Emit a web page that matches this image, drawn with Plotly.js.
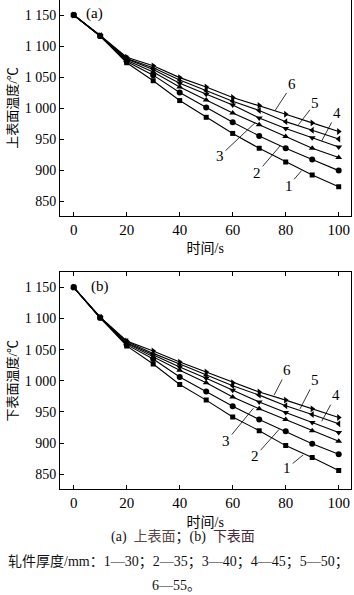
<!DOCTYPE html>
<html>
<head>
<meta charset="utf-8">
<script src="https://cdn.plot.ly/plotly-3.0.1.min.js"></script>
<style>
html,body{margin:0;padding:0;background:#fff;}
#chart{width:354px;height:595px;}
</style>
</head>
<body>
<div id="chart"></div>
<script>
// ---- data ----
const timeS = [0, 10, 20, 30, 40, 50, 60, 70, 80, 90, 100];
const seriesNames = ["1", "2", "3", "4", "5", "6"];
const thicknessMm = [30, 35, 40, 45, 50, 55];

// (a) upper surface temperature, °C
const upper1 = [1150, 1116, 1073, 1044, 1012, 985, 959, 935, 913, 892, 873];
const upper2 = [1150, 1116, 1075, 1053, 1025, 1001, 977, 955, 935, 917, 899];
const upper3 = [1150, 1116, 1077, 1058, 1034, 1013, 992, 973, 954, 935, 920];
const upper4 = [1150, 1116, 1079, 1062, 1040, 1022, 1005, 984, 967, 952, 937];
const upper5 = [1150, 1117, 1080, 1065, 1045, 1028, 1011, 996, 978, 964, 950];
const upper6 = [1150, 1117, 1082, 1068, 1049, 1034, 1017, 1004, 990, 976, 962];

// (b) lower surface temperature, °C
const lower1 = [1150, 1101, 1056, 1027, 994, 969, 942, 920, 896, 877, 856];
const lower2 = [1150, 1101, 1058, 1035, 1006, 983, 959, 938, 919, 899, 882];
const lower3 = [1150, 1101, 1060, 1038, 1017, 997, 974, 955, 938, 920, 903];
const lower4 = [1150, 1101, 1061, 1041, 1022, 1004, 985, 966, 949, 933, 917];
const lower5 = [1150, 1102, 1063, 1044, 1027, 1009, 992, 977, 960, 946, 931];
const lower6 = [1150, 1102, 1064, 1048, 1030, 1014, 997, 982, 969, 955, 941];

const yTickVals = [850, 900, 950, 1000, 1050, 1100, 1150];
const yTickText = ["850", "900", "950", "1 000", "1 050", "1 100", "1 150"];
const xTickVals = [0, 20, 40, 60, 80, 100];

// ---- style ----
const FONT = '"Liberation Serif", "Times New Roman", "Noto Sans CJK SC", serif';
const symbols = ["square", "circle", "triangle-up", "triangle-down", "triangle-left", "triangle-right"];
const sizes = [5, 6, 6, 6, 6, 6];

const upper = [upper1, upper2, upper3, upper4, upper5, upper6];
const lower = [lower1, lower2, lower3, lower4, lower5, lower6];

const traces = [];
function addSet(sets, xa, ya) {
  sets.forEach((vals, i) => {
    traces.push({
      x: timeS, y: vals, xaxis: xa, yaxis: ya,
      type: 'scatter', mode: 'lines+markers',
      name: seriesNames[i] + '—' + thicknessMm[i],
      line: {color: '#000', width: 1.1},
      marker: {symbol: symbols[i], size: sizes[i], color: '#000'},
      showlegend: false, hoverinfo: 'x+y'
    });
  });
}
addSet(upper, 'x', 'y');
addSet(lower, 'x2', 'y2');

const xRange = [-5.17, 104.45];
function xAxis(anchor, domain, mirror) {
  return {
    anchor: anchor, domain: domain, range: xRange,
    tickvals: xTickVals, ticks: 'inside', ticklen: 4, tickwidth: 1, tickcolor: '#000',
    showline: true, linecolor: '#000', linewidth: 1, mirror: mirror,
    showgrid: false, zeroline: false,
    tickfont: {family: FONT, size: 15, color: '#000'},
    title: {text: '时间/s', font: {family: FONT, size: 14, color: '#000'}, standoff: 6}
  };
}
function yAxis(anchor, domain, range, title) {
  return {
    anchor: anchor, domain: domain, range: range,
    tickvals: yTickVals, ticktext: yTickText,
    ticks: 'inside', ticklen: 4, tickwidth: 1, tickcolor: '#000',
    showline: true, linecolor: '#000', linewidth: 1, mirror: true,
    showgrid: false, zeroline: false,
    tickfont: {family: FONT, size: 14, color: '#000'},
    title: {text: title, font: {family: FONT, size: 13, color: '#000'}, standoff: 4}
  };
}

const W = 354, H = 595;
const xDom = [60 / W, 350.5 / W];
const yDomTop = [1 - 216 / H, 1];
const yDomBot = [1 - 489.3 / H, 1 - 272.3 / H];

function lab(text, x, y, ax, ay, xref, yref) {
  return {text: text, x: x, y: y, xref: xref, yref: yref, ax: ax, ay: ay,
    showarrow: true, arrowhead: 0, arrowwidth: 0.8, arrowcolor: '#000', standoff: 0,
    font: {family: FONT, size: 15, color: '#000'}};
}
function cap(text, px, py) {
  return {text: text, xref: 'paper', yref: 'paper', x: px / W, y: 1 - py / H,
    xanchor: 'center', yanchor: 'middle', showarrow: false,
    font: {family: FONT, size: 14, color: '#111'}};
}

const annotations = [
  {text: '(a)', x: 8.0, y: 1153, xref: 'x', yref: 'y', showarrow: false,
   font: {family: FONT, size: 15, color: '#000'}},
  {text: '(b)', x: 9.9, y: 1151, xref: 'x2', yref: 'y2', showarrow: false,
   font: {family: FONT, size: 15, color: '#000'}},
  lab('6', 76, 996, 17, -26, 'x', 'y'),
  lab('5', 84.8, 973, 17, -22, 'x', 'y'),
  lab('4', 93.6, 947, 15, -28, 'x', 'y'),
  lab('3', 68.4, 976, -35, 33, 'x', 'y'),
  lab('2', 77.9, 939, -23, 27, 'x', 'y'),
  lab('1', 86, 899, -13, 15, 'x', 'y'),
  lab('6', 75.6, 977, 13, -25, 'x2', 'y2'),
  lab('5', 85.4, 955, 15, -29, 'x2', 'y2'),
  lab('4', 93.6, 935, 14, -26, 'x2', 'y2'),
  lab('3', 67.8, 956, -27, 33, 'x2', 'y2'),
  lab('2', 77.5, 922, -24, 27, 'x2', 'y2'),
  lab('1', 86.6, 881, -16, 13, 'x2', 'y2'),
  cap('(a)  <span style="color:#5a4848">上表面</span>；(b)  <span style="color:#4a2a3a">下表面</span>', 182.5, 536.7),
  cap('轧件厚度/mm：1—30；2—35；3—40；4—45；5—50；', 179, 561.7),
  cap('6—55。', 176, 585)
];

const layout = {
  width: W, height: H,
  margin: {l: 0, r: 0, t: 0, b: 0},
  paper_bgcolor: '#fff', plot_bgcolor: '#fff',
  showlegend: false,
  xaxis: xAxis('y', xDom, false),
  yaxis: yAxis('x', yDomTop, [825.8, 1174.2], '上表面温度/℃'),
  xaxis2: xAxis('y2', xDom, 'ticks'),
  yaxis2: yAxis('x2', yDomBot, [825.9, 1174.1], '下表面温度/℃'),
  annotations: annotations
};

Plotly.newPlot('chart', traces, layout, {staticPlot: true, displayModeBar: false});
</script>
</body>
</html>
